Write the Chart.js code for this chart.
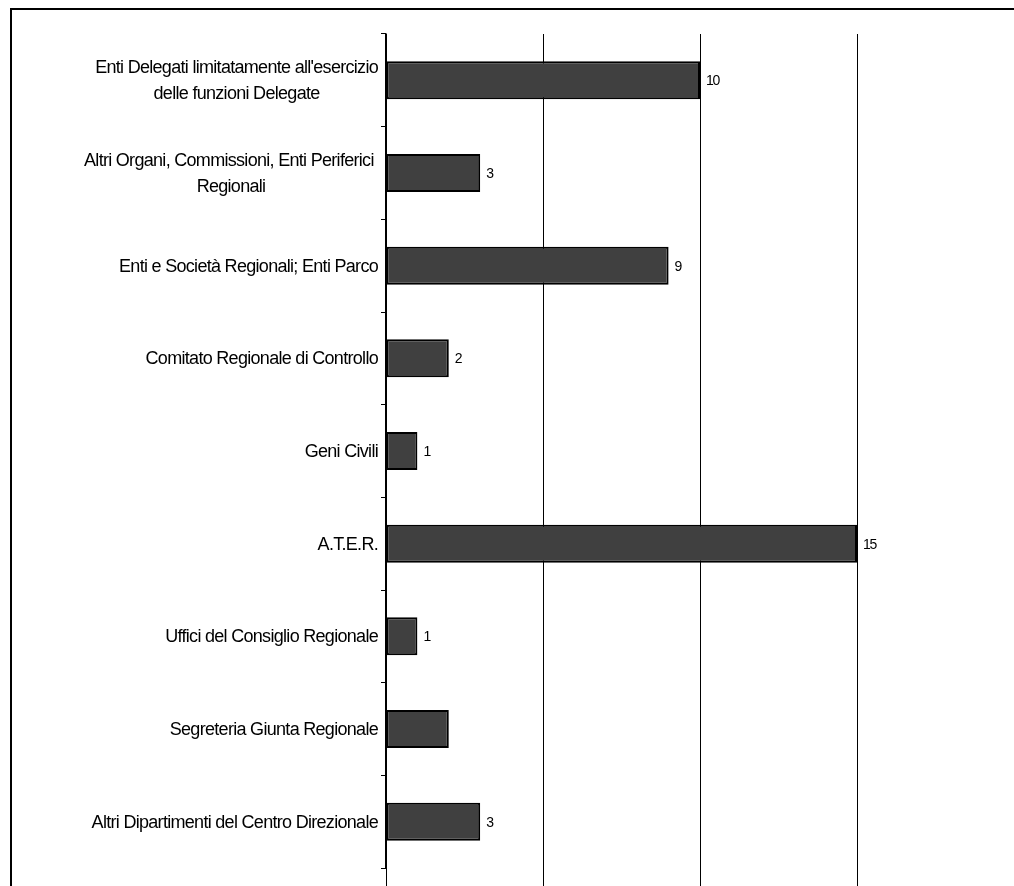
<!DOCTYPE html>
<html>
<head>
<meta charset="utf-8">
<script src="https://cdn.jsdelivr.net/npm/chart.js@4/dist/chart.umd.min.js"></script>
<style>
  html, body { margin: 0; padding: 0; background: #fff; overflow: hidden; }
  #wrap { position: relative; width: 1014px; height: 886px; }
  #frame { position: absolute; left: 10px; top: 8px; right: -4px; bottom: -4px;
           border-top: 2px solid #000; border-left: 2px solid #000; pointer-events: none; }
  canvas { position: absolute; left: 0; top: 0; }
</style>
</head>
<body>
<div id="wrap">
  <canvas id="c" width="1014" height="886"></canvas>
  <div id="frame"></div>
</div>
<script>
const categories = [
  ["Enti Delegati limitatamente all'esercizio", "delle funzioni Delegate"],
  ["Altri Organi, Commissioni, Enti Periferici ", "Regionali"],
  ["Enti e Società Regionali; Enti Parco"],
  ["Comitato Regionale di Controllo"],
  ["Geni Civili"],
  ["A.T.E.R."],
  ["Uffici del Consiglio Regionale"],
  ["Segreteria Giunta Regionale"],
  ["Altri Dipartimenti del Centro Direzionale"]
];
const values = [10, 3, 9, 2, 1, 15, 1, 2, 3];
const valueLabels = ["10", "3", "9", "2", "1", "15", "1", null, "3"];
const xTicks = [0, 5, 10, 15, 20];

const FONT = "'Liberation Sans', Arial, sans-serif";

const labelPlugin = {
  id: 'customLabels',
  afterDatasetsDraw(chart) {
    const ctx = chart.ctx;
    const y = chart.scales.y;
    const x = chart.scales.x;
    const area = chart.chartArea;
    ctx.save();
    // extend gridlines and axis below plot area
    ctx.strokeStyle = '#000';
    ctx.lineWidth = 1;
    xTicks.forEach(v => {
      const px = Math.round(x.getPixelForValue(v)) + 0.5;
      ctx.beginPath();
      ctx.moveTo(px, area.bottom);
      ctx.lineTo(px, chart.height);
      ctx.stroke();
    });
    // category labels
    ctx.fillStyle = '#000';
    ctx.font = '18px ' + FONT;
    ctx.letterSpacing = '-0.7px';
    ctx.textBaseline = 'middle';
    ctx.textAlign = 'center';
    const right = area.left - 8;
    const lh = 26;
    categories.forEach((lines, i) => {
      const cy = y.getPixelForValue(i);
      let widest = 0;
      lines.forEach(l => { widest = Math.max(widest, ctx.measureText(l).width); });
      const cx = right - widest / 2;
      lines.forEach((l, k) => {
        ctx.fillText(l, cx, cy + (k - (lines.length - 1) / 2) * lh + 1);
      });
    });
    // value labels
    ctx.font = '14px ' + FONT;
    ctx.letterSpacing = '-1.2px';
    ctx.textAlign = 'left';
    values.forEach((v, i) => {
      if (valueLabels[i] == null) return;
      ctx.fillText(valueLabels[i], x.getPixelForValue(v) + 6, y.getPixelForValue(i) + 1);
    });
    ctx.restore();
  }
};

new Chart(document.getElementById('c'), {
  type: 'bar',
  data: {
    labels: categories,
    datasets: [{
      data: values,
      backgroundColor: '#404040',
      borderColor: '#000',
      borderWidth: 2,
      borderSkipped: false,
      barPercentage: 0.41,
      categoryPercentage: 1
    }]
  },
  options: {
    indexAxis: 'y',
    responsive: false,
    animation: false,
    devicePixelRatio: 1,
    layout: { padding: { top: 34, bottom: 18, left: 0, right: -2 } },
    plugins: { legend: { display: false }, tooltip: { enabled: false } },
    scales: {
      x: {
        min: 0, max: 20,
        afterBuildTicks(scale) { scale.ticks = xTicks.map(v => ({ value: v })); },
        ticks: { display: false },
        grid: { color: '#000', lineWidth: 1, drawTicks: false },
        border: { display: false }
      },
      y: {
        ticks: { display: false },
        grid: { drawOnChartArea: false, drawTicks: true, tickLength: 5, color: '#000', lineWidth: 1, offset: true },
        border: { display: true, color: '#000', width: 1.5 },
        afterFit(scale) { scale.width = 386; }
      }
    }
  },
  plugins: [labelPlugin]
});
</script>
</body>
</html>
